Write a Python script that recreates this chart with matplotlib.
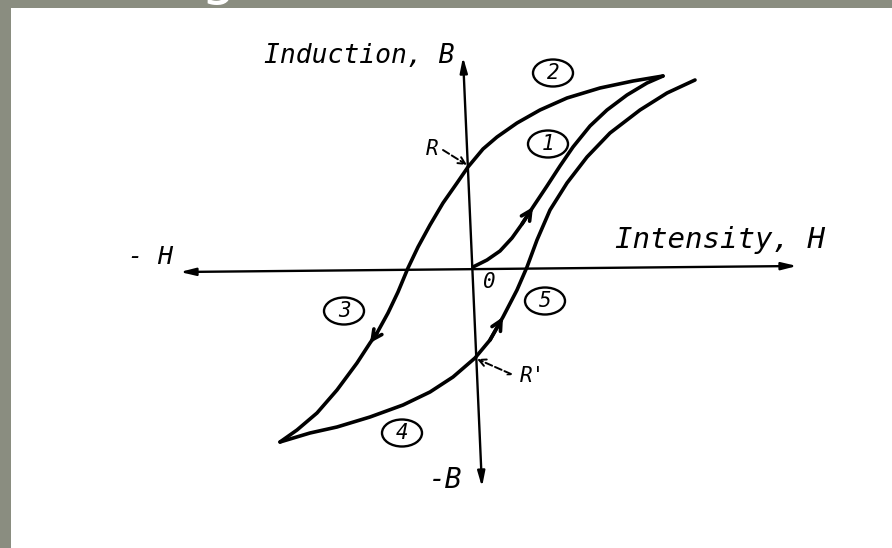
import matplotlib.pyplot as plt
from matplotlib.patches import Ellipse, Rectangle

# hysteresis loop sketch, H to the right, B upwards, origin where the axes cross
# initial magnetization curve (1)
h_initial = [0, 14, 27, 39, 49, 60, 74, 87, 100, 117, 134, 154, 174, 190]
b_initial = [1, 8, 17, 30, 44, 61, 82, 102, 121, 142, 158, 173, 185, 192]

# decreasing branch (2) -> R -> (3) down to the negative tip
h_upper = [190, 160, 127, 94, 67, 44, 24, 10,
           -5, -16, -30, -43, -55, -65, -75, -85, -96, -103, -116, -136, -156,
           -176, -193]
b_upper = [192, 187, 180, 170, 158, 145, 131, 119,
           101, 85, 65, 43, 21, 0, -24, -45, -65, -75, -95, -122, -145,
           -162, -174]

# increasing branch (4) -> R' -> (5) back up
h_lower = [-193, -163, -136, -103, -70, -43, -20, 2,
           17, 30, 44, 54, 64, 77, 94, 114, 137, 167, 194, 222]
b_lower = [-174, -165, -159, -149, -137, -124, -109, -90,
           -72, -49, -22, 1, 28, 58, 85, 111, 135, 158, 175, 188]

# axis ends
h_axis_h = [-293, 324]
h_axis_b = [-4, 2]
b_axis_h = [-10, 9]
b_axis_b = [211, -219]

# circled branch numbers
circle_text = ['1', '2', '3', '4', '5']
circle_h = [75, 80, -129, -71, 72]
circle_b = [124, 195, -43, -165, -33]

GREY = '#8a8d80'
LW = 2.6
font = dict(family='DejaVu Sans Mono', style='italic', color='black')

fig = plt.figure(figsize=(8.92, 5.48), dpi=100, facecolor=GREY)
fig.add_artist(Rectangle((11 / 892, 0), 881 / 892, 540 / 548,
                         transform=fig.transFigure, facecolor='white',
                         edgecolor='none', zorder=-1))
# bottom of the slide title letter peeking into the grey band
fig.text(219 / 892, 543 / 548, 'g', ha='center', va='bottom', fontsize=40,
         color='white', zorder=-2)

ax = fig.add_axes([0, 0, 1, 1])
ax.set_xlim(-473, 419)
ax.set_ylim(-280, 268)
ax.axis('off')

# axes with arrow heads at both ends
ax.annotate('', xy=(h_axis_h[1], h_axis_b[1]), xytext=(h_axis_h[0], h_axis_b[0]),
            arrowprops=dict(arrowstyle='<|-|>,head_length=0.9,head_width=0.22',
                            lw=1.7, color='black', shrinkA=0, shrinkB=0))
ax.annotate('', xy=(b_axis_h[0], b_axis_b[0]), xytext=(b_axis_h[1], b_axis_b[1]),
            arrowprops=dict(arrowstyle='<|-|>,head_length=0.9,head_width=0.22',
                            lw=1.7, color='black', shrinkA=0, shrinkB=0))

for h, b in [(h_initial, b_initial), (h_upper, b_upper), (h_lower, b_lower)]:
    ax.plot(h, b, color='black', lw=LW, solid_joinstyle='round',
            solid_capstyle='round')

# direction arrows on the curves
arrow_style = dict(arrowstyle='->,head_length=0.7,head_width=0.35', lw=LW,
                   color='black', shrinkA=0, shrinkB=0)
ax.annotate('', xy=(h_initial[5], b_initial[5]), xytext=(h_initial[4], b_initial[4]),
            arrowprops=arrow_style)
ax.annotate('', xy=(h_upper[17], b_upper[17]), xytext=(h_upper[16], b_upper[16]),
            arrowprops=arrow_style)
ax.annotate('', xy=(h_lower[9], b_lower[9]), xytext=(h_lower[8], b_lower[8]),
            arrowprops=arrow_style)

# circled numbers
for t, h, b in zip(circle_text, circle_h, circle_b):
    ax.add_patch(Ellipse((h, b), 40, 27, facecolor='none', edgecolor='black',
                         lw=1.7))
    ax.text(h, b, t, ha='center', va='center', fontsize=15, **font)

# axis labels
ax.text(-18, 212, 'Induction, B', ha='right', va='center', fontsize=19, **font)
ax.text(142, 28, 'Intensity, H', ha='left', va='center', fontsize=21, **font)
ax.text(-300, 11, '- H', ha='right', va='center', fontsize=18, **font)
ax.text(-11, -212, '-B', ha='right', va='center', fontsize=20, **font)
ax.text(16, -14, '0', ha='center', va='center', fontsize=15, **font)

# remanence points R and R'
dash_arrow = dict(arrowstyle='->,head_length=0.5,head_width=0.25', lw=1.4,
                  color='black', linestyle='--', shrinkA=0, shrinkB=0)
ax.text(-41, 119, 'R', ha='center', va='center', fontsize=15, **font)
ax.annotate('', xy=(-6, 103), xytext=(-30, 118), arrowprops=dash_arrow)
ax.text(60, -108, "R'", ha='center', va='center', fontsize=15, **font)
ax.annotate('', xy=(4, -91), xytext=(38, -106), arrowprops=dash_arrow)
ax.text(36, -106, '-', ha='center', va='center', fontsize=12, **font)

fig.savefig('out.png', dpi=100, facecolor=fig.get_facecolor())
